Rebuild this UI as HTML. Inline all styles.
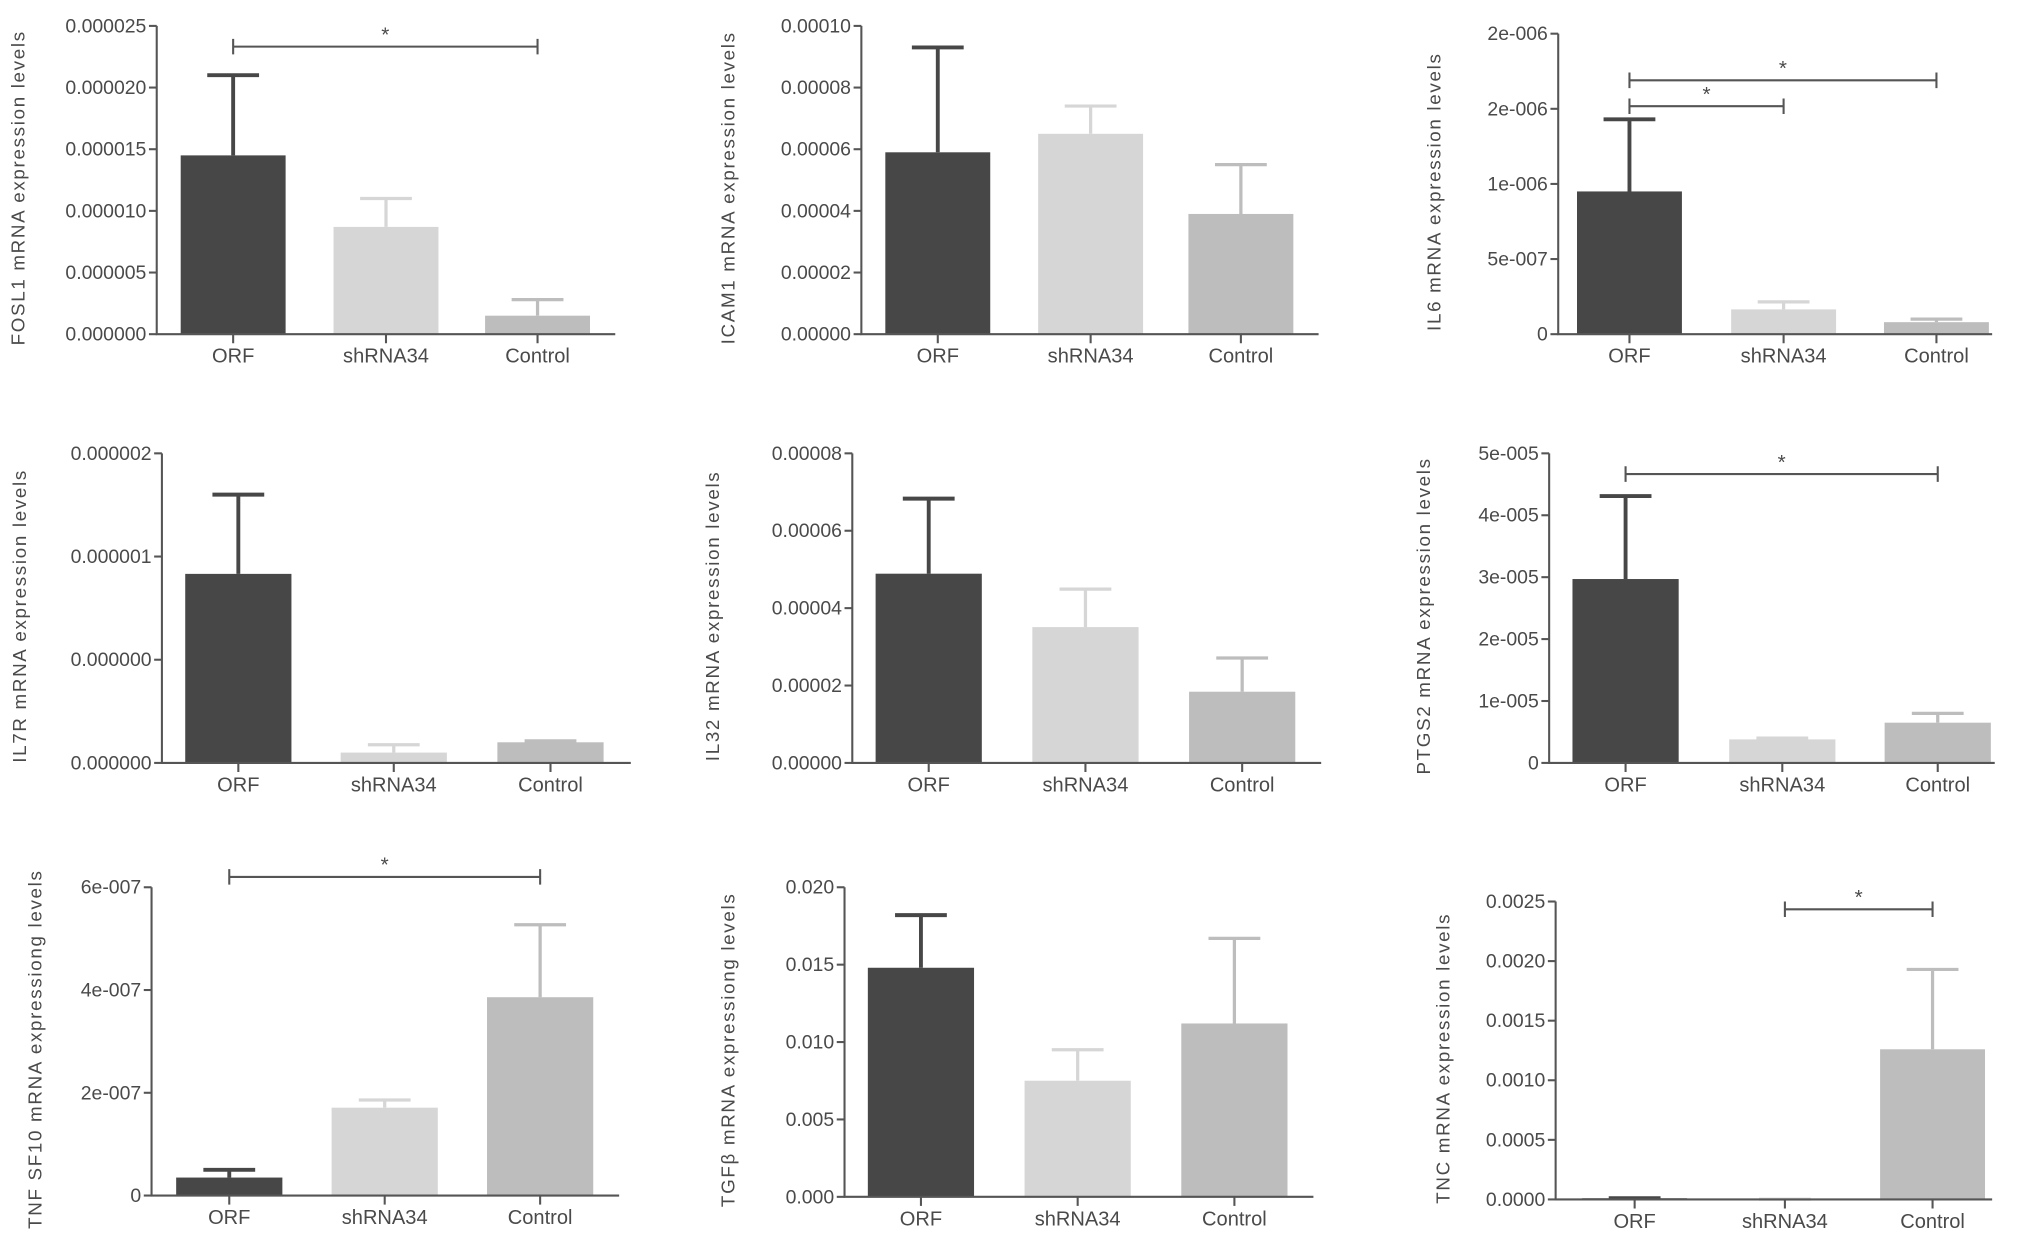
<!DOCTYPE html>
<html><head><meta charset="utf-8"><style>
html,body{margin:0;padding:0;background:#fff;}
svg{display:block;}
text{font-family:"Liberation Sans",sans-serif;fill:#4a4a4a;}
</style></head><body>
<svg id="fig" width="2031" height="1248" viewBox="0 0 1568 963.5" xmlns="http://www.w3.org/2000/svg"></svg>
<script>
const categories = ["ORF","shRNA34","Control"];
const fosl1Means = [1.45e-5, 0.87e-5, 0.15e-5];
const fosl1Errs  = [2.1e-5, 1.1e-5, 0.28e-5];
const fosl1Ticks = ["0.000000","0.000005","0.000010","0.000015","0.000020","0.000025"];
const icam1Means = [5.9e-5, 6.5e-5, 3.9e-5];
const icam1Errs  = [9.3e-5, 7.4e-5, 5.5e-5];
const icam1Ticks = ["0.00000","0.00002","0.00004","0.00006","0.00008","0.00010"];
const il6Means = [0.95e-6, 0.165e-6, 0.08e-6];
const il6Errs  = [1.43e-6, 0.215e-6, 0.1e-6];
const il6Ticks = ["0","5e-007","1e-006","2e-006","2e-006"];
const il7rMeans = [0.916e-6, 0.05e-6, 0.1e-6];
const il7rErrs  = [1.3e-6, 0.088e-6, 0.107e-6];
const il7rTicks = ["0.000000","0.000000","0.000001","0.000002"];
const il32Means = [4.89e-5, 3.51e-5, 1.84e-5];
const il32Errs  = [6.83e-5, 4.49e-5, 2.71e-5];
const il32Ticks = ["0.00000","0.00002","0.00004","0.00006","0.00008"];
const ptgs2Means = [2.97e-5, 0.38e-5, 0.65e-5];
const ptgs2Errs  = [4.31e-5, 0.4e-5, 0.8e-5];
const ptgs2Ticks = ["0","1e-005","2e-005","3e-005","4e-005","5e-005"];
const tnfMeans = [0.35e-7, 1.71e-7, 3.86e-7];
const tnfErrs  = [0.5e-7, 1.86e-7, 5.27e-7];
const tnfTicks = ["0","2e-007","4e-007","6e-007"];
const tgfMeans = [0.0148, 0.0075, 0.0112];
const tgfErrs  = [0.0182, 0.0095, 0.0167];
const tgfTicks = ["0.000","0.005","0.010","0.015","0.020"];
const tncMeans = [0.00001, 0.000002, 0.00126];
const tncErrs  = [0.00001, 0.000002, 0.00193];
const tncTicks = ["0.0000","0.0005","0.0010","0.0015","0.0020","0.0025"];

const colors = ["#474747","#d6d6d6","#bdbdbd"];
const panels = [
 {name:"fosl1",label:"FOSL1 mRNA expression levels",means:fosl1Means,errs:fosl1Errs,ticks:fosl1Ticks,max:2.5e-5,ax:121,x2:475,top:20,bot:258,cx:[180,298,415],bw:81,ylx:19,sig:[[0,2,36]]},
 {name:"icam1",label:"ICAM1 mRNA expression levels",means:icam1Means,errs:icam1Errs,ticks:icam1Ticks,max:1e-4,ax:665,x2:1018,top:20,bot:258,cx:[724,842,958],bw:81,ylx:567,sig:[]},
 {name:"il6",label:"IL6 mRNA expression levels",means:il6Means,errs:il6Errs,ticks:il6Ticks,max:2e-6,ax:1203,x2:1538,top:26,bot:258,cx:[1258,1377,1495],bw:81,ylx:1112,sig:[[0,2,62],[0,1,82]]},
 {name:"il7r",label:"IL7R mRNA expression levels",means:il7rMeans,errs:il7rErrs,ticks:il7rTicks,max:1.5e-6,ax:125,x2:487,top:350,bot:589,cx:[184,304,425],bw:82,ylx:20,sig:[]},
 {name:"il32",label:"IL32 mRNA expression levels",means:il32Means,errs:il32Errs,ticks:il32Ticks,max:8e-5,ax:658,x2:1020,top:350,bot:589,cx:[717,838,959],bw:82,ylx:555,sig:[]},
 {name:"ptgs2",label:"PTGS2 mRNA expression levels",means:ptgs2Means,errs:ptgs2Errs,ticks:ptgs2Ticks,max:5e-5,ax:1196,x2:1540,top:350,bot:589,cx:[1255,1376,1496],bw:82,ylx:1104,sig:[[0,2,366]]},
 {name:"tnfsf10",label:"TNF SF10 mRNA expressiong levels",means:tnfMeans,errs:tnfErrs,ticks:tnfTicks,max:6e-7,ax:117,x2:478,top:685,bot:923,cx:[177,297,417],bw:82,ylx:32,sig:[[0,2,677]]},
 {name:"tgfb",label:"TGFβ mRNA expressiong levels",means:tgfMeans,errs:tgfErrs,ticks:tgfTicks,max:0.02,ax:652,x2:1014,top:685,bot:924,cx:[711,832,953],bw:82,ylx:567,sig:[]},
 {name:"tnc",label:"TNC mRNA expression levels",means:tncMeans,errs:tncErrs,ticks:tncTicks,max:0.0025,ax:1201,x2:1538,top:696,bot:926,cx:[1262,1378,1492],bw:81,ylx:1119,sig:[[1,2,702]]}
];
const NS="http://www.w3.org/2000/svg";
const svg=document.getElementById('fig');
function mk(tag,attrs,parent){const e=document.createElementNS(NS,tag);for(const k in attrs)e.setAttribute(k,attrs[k]);parent.appendChild(e);return e;}
panels.forEach(p=>{
  const g=mk('g',{},svg);
  
  
  const y=v=>p.bot-(v/p.max)*(p.bot-p.top);
  p.means.forEach((m,i)=>{
    const c=p.cx[i];
    const r=mk('rect',{x:c-p.bw/2,y:y(m),width:p.bw,height:p.bot-y(m),fill:colors[i]},g);
    
    
    const e=mk('path',{d:`M${c},${y(m)}V${y(p.errs[i])}M${c-20},${y(p.errs[i])}H${c+20}`,stroke:colors[i],'stroke-width':i==0?3:2.5,fill:'none'},g);
    
    
  });
  const ax=mk('path',{d:`M${p.ax},${p.top}V${p.bot}H${p.x2}`,stroke:'#555','stroke-width':1.6,fill:'none'},g);
  
  
  const n=p.ticks.length-1;
  p.ticks.forEach((t,i)=>{
    const ty=p.bot-(i/n)*(p.bot-p.top);
    mk('line',{x1:p.ax-6,x2:p.ax,y1:ty,y2:ty,stroke:'#555','stroke-width':1.6},g);
    const tl=mk('text',{x:p.ax-8,y:ty+5,'text-anchor':'end','font-size':15},g);
    tl.textContent=t;
    
    
  });
  categories.forEach((cat,i)=>{
    const c=p.cx[i];
    mk('line',{x1:c,x2:c,y1:p.bot,y2:p.bot+7,stroke:'#555','stroke-width':1.6},g);
    const cl=mk('text',{x:c,y:p.bot+22,'text-anchor':'middle','font-size':15.5},g);
    cl.textContent=cat;
    
    
  });
  const cy=(p.top+p.bot)/2+6;
  const yl=mk('text',{x:p.ylx,y:cy,'text-anchor':'middle','font-size':14.5,'letter-spacing':'1.3',transform:`rotate(-90 ${p.ylx} ${cy})`},g);
  yl.textContent=p.label;
  
  
  p.sig.forEach(s=>{
    const a=p.cx[s[0]],b=p.cx[s[1]],sy=s[2];
    const sp=mk('path',{d:`M${a},${sy-6}V${sy+6}M${a},${sy}H${b}M${b},${sy-6}V${sy+6}`,stroke:'#555','stroke-width':1.6,fill:'none'},g);
    
    
    const st=mk('text',{x:(a+b)/2,y:sy-4,'text-anchor':'middle','font-size':16},g);
    st.textContent='*';
    
    
  });
});
</script>
</body></html>
